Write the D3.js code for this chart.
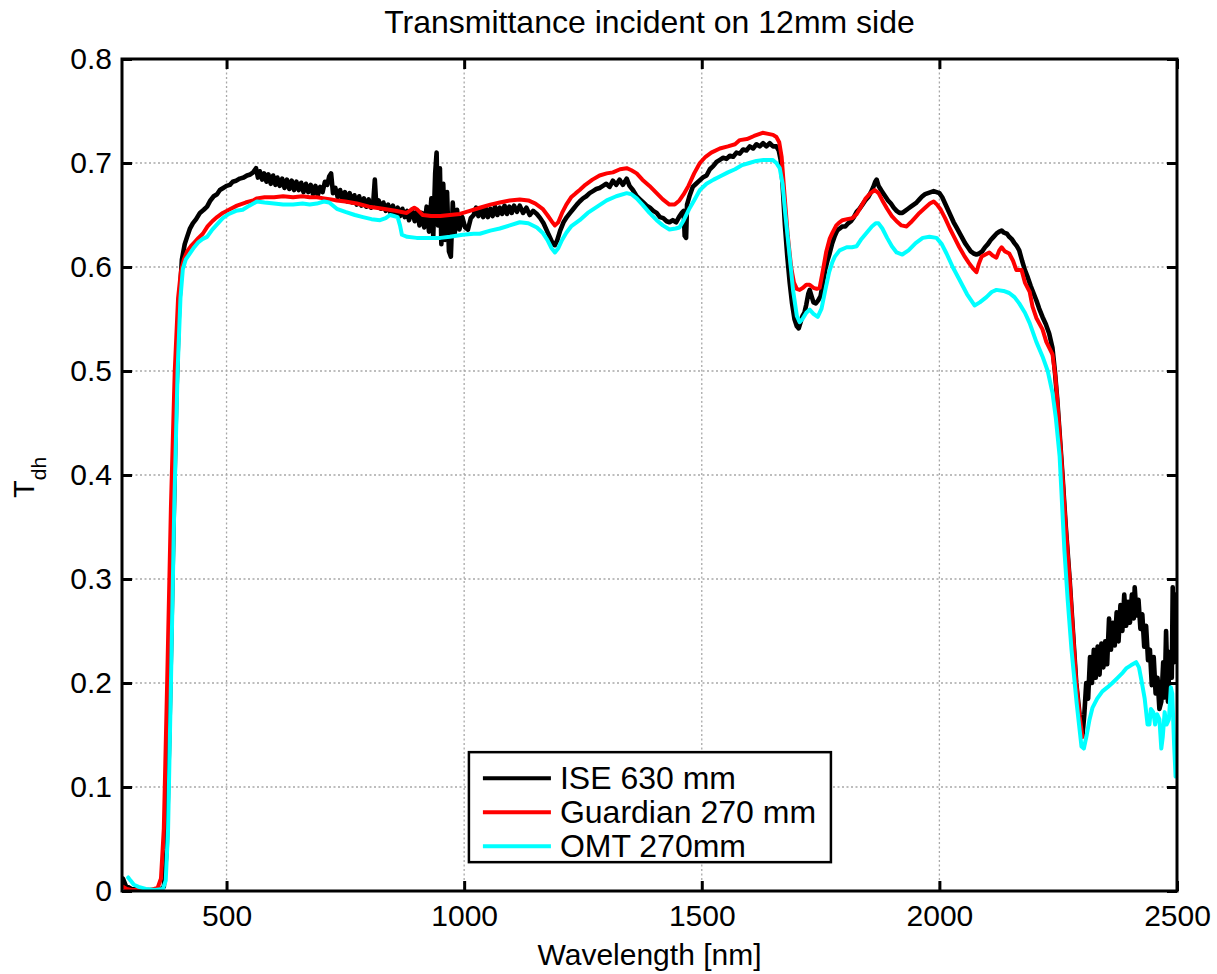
<!DOCTYPE html>
<meta charset="utf-8">
<style>
body { margin: 0; background: #fff; }
svg { font-family: "Liberation Sans", Arial, sans-serif; }
.grid line { stroke: #a8a8a8; stroke-width: 1.3px; stroke-dasharray: 2,2.5; }
.axis path { display: none; }
.axis line { stroke: #000; stroke-width: 3px; }
.axis text { font-size: 30px; fill: #000; }
.curve { fill: none; stroke-width: 4px; stroke-linejoin: round; stroke-linecap: round; }
</style>
<svg width="1217" height="974"></svg>
<script src="https://cdnjs.cloudflare.com/ajax/libs/d3/7.8.5/d3.min.js"></script>
<script>

// wavelength [nm], T_dh
var iseData = [
  [282,0.012],[288,0.005],[300,0.002],[330,0.001],[360,0.001],[368,0.004],[374,0.04],[380,0.16],[387,0.32],[394,0.47],[400,0.56],[406,0.607],[412,0.622],[417,0.629],[423,0.637],[429,0.642],[436,0.646],[444,0.652],[452,0.655],[459,0.658],[466,0.664],[473,0.668],[480,0.67],[486,0.674],[493,0.676],[500,0.678],[507,0.679],[513,0.682],[520,0.683],[528,0.685],[536,0.686],[543,0.688],[550,0.689],[556,0.691],[562,0.695],[566,0.686],[570,0.692],[575,0.684],[579,0.69],[584,0.682],[588,0.689],[593,0.68],[598,0.688],[603,0.679],[607,0.686],[612,0.678],[617,0.685],[622,0.676],[627,0.684],[632,0.675],[637,0.683],[642,0.674],[647,0.682],[652,0.674],[657,0.681],[662,0.672],[667,0.68],[672,0.672],[677,0.679],[682,0.67],[687,0.678],[692,0.669],[697,0.677],[702,0.672],[707,0.682],[712,0.679],[716,0.687],[720,0.69],[724,0.671],[729,0.676],[734,0.667],[739,0.674],[744,0.665],[749,0.672],[754,0.663],[759,0.671],[764,0.662],[769,0.669],[774,0.66],[779,0.668],[784,0.659],[789,0.666],[794,0.658],[799,0.665],[804,0.657],[809,0.664],[812,0.684],[815,0.66],[820,0.664],[825,0.656],[830,0.662],[835,0.654],[840,0.66],[845,0.652],[850,0.659],[855,0.651],[860,0.657],[865,0.649],[870,0.656],[875,0.648],[880,0.654],[884,0.645],[890,0.655],[896,0.644],[901,0.654],[906,0.64],[911,0.652],[916,0.638],[921,0.658],[926,0.634],[931,0.666],[935,0.63],[939,0.69],[942,0.71],[945,0.64],[949,0.695],[952,0.622],[956,0.68],[960,0.626],[964,0.672],[968,0.615],[972,0.61],[976,0.662],[980,0.632],[985,0.655],[990,0.636],[996,0.648],[1002,0.638],[1008,0.636],[1014,0.647],[1020,0.65],[1025,0.657],[1030,0.649],[1035,0.656],[1040,0.648],[1045,0.657],[1050,0.648],[1055,0.656],[1060,0.649],[1065,0.658],[1070,0.65],[1075,0.657],[1080,0.651],[1085,0.659],[1090,0.651],[1095,0.658],[1100,0.652],[1105,0.659],[1111,0.653],[1117,0.659],[1124,0.652],[1131,0.657],[1138,0.65],[1145,0.654],[1153,0.651],[1160,0.647],[1167,0.642],[1174,0.635],[1181,0.628],[1187,0.622],[1191,0.621],[1196,0.626],[1202,0.635],[1209,0.643],[1216,0.648],[1223,0.652],[1230,0.656],[1237,0.66],[1243,0.663],[1250,0.666],[1257,0.668],[1264,0.671],[1271,0.673],[1278,0.675],[1285,0.676],[1292,0.678],[1299,0.68],[1306,0.677],[1313,0.683],[1320,0.679],[1327,0.684],[1334,0.679],[1342,0.685],[1348,0.678],[1355,0.674],[1363,0.668],[1370,0.665],[1377,0.662],[1384,0.659],[1391,0.657],[1398,0.654],[1405,0.652],[1412,0.648],[1419,0.647],[1426,0.644],[1432,0.643],[1439,0.645],[1446,0.643],[1452,0.648],[1458,0.652],[1462,0.654],[1464,0.63],[1467,0.628],[1469,0.66],[1474,0.668],[1481,0.677],[1488,0.68],[1495,0.683],[1502,0.686],[1510,0.688],[1517,0.694],[1524,0.697],[1531,0.701],[1538,0.703],[1545,0.705],[1552,0.704],[1559,0.707],[1566,0.706],[1573,0.71],[1580,0.709],[1587,0.713],[1594,0.712],[1601,0.716],[1608,0.714],[1615,0.718],[1622,0.716],[1629,0.719],[1636,0.716],[1643,0.719],[1650,0.716],[1657,0.716],[1662,0.712],[1666,0.703],[1670,0.68],[1675,0.64],[1680,0.61],[1685,0.585],[1690,0.565],[1695,0.55],[1700,0.543],[1704,0.541],[1708,0.547],[1712,0.553],[1716,0.556],[1720,0.564],[1724,0.574],[1727,0.578],[1731,0.572],[1735,0.566],[1740,0.565],[1745,0.568],[1750,0.572],[1755,0.585],[1760,0.598],[1765,0.607],[1769,0.613],[1774,0.622],[1780,0.63],[1785,0.635],[1790,0.637],[1796,0.639],[1802,0.639],[1808,0.642],[1814,0.644],[1820,0.648],[1826,0.653],[1832,0.656],[1838,0.66],[1844,0.664],[1850,0.667],[1856,0.672],[1861,0.677],[1865,0.682],[1868,0.684],[1872,0.678],[1876,0.675],[1880,0.672],[1886,0.668],[1892,0.664],[1898,0.661],[1904,0.657],[1910,0.654],[1916,0.652],[1922,0.652],[1928,0.654],[1934,0.656],[1940,0.658],[1946,0.66],[1952,0.662],[1958,0.665],[1964,0.668],[1970,0.67],[1976,0.671],[1982,0.672],[1988,0.673],[1994,0.672],[2000,0.671],[2006,0.667],[2012,0.661],[2018,0.655],[2024,0.649],[2030,0.643],[2036,0.638],[2042,0.633],[2048,0.628],[2054,0.623],[2060,0.619],[2066,0.615],[2072,0.613],[2078,0.612],[2084,0.613],[2090,0.615],[2096,0.619],[2102,0.622],[2108,0.626],[2114,0.629],[2120,0.632],[2126,0.634],[2131,0.635],[2136,0.633],[2142,0.632],[2147,0.629],[2152,0.627],[2158,0.623],[2163,0.62],[2168,0.616],[2174,0.606],[2180,0.597],[2186,0.59],[2192,0.582],[2198,0.575],[2204,0.568],[2210,0.56],[2217,0.552],[2224,0.545],[2231,0.536],[2238,0.522],[2243,0.5],[2248,0.473],[2253,0.44],[2259,0.4],[2266,0.35],[2274,0.3],[2281,0.25],[2288,0.2],[2295,0.17],[2301,0.149],[2305,0.17],[2309,0.2],[2313,0.185],[2317,0.225],[2321,0.2],[2325,0.232],[2329,0.205],[2333,0.235],[2337,0.208],[2341,0.238],[2345,0.215],[2349,0.24],[2353,0.218],[2357,0.262],[2361,0.232],[2365,0.258],[2369,0.236],[2373,0.268],[2377,0.24],[2381,0.275],[2385,0.25],[2389,0.285],[2393,0.255],[2397,0.278],[2401,0.258],[2405,0.285],[2409,0.262],[2411,0.292],[2415,0.265],[2419,0.28],[2423,0.252],[2427,0.266],[2431,0.235],[2435,0.255],[2439,0.222],[2443,0.232],[2447,0.198],[2451,0.225],[2455,0.19],[2459,0.205],[2463,0.175],[2467,0.182],[2471,0.22],[2474,0.186],[2477,0.25],[2481,0.182],[2485,0.23],[2489,0.205],[2491,0.292],[2494,0.22],[2497,0.285],[2500,0.27]
];

var guardianData = [
  [282,0.004],[290,0.002],[300,0.001],[340,0.001],[355,0.003],[362,0.012],[368,0.06],[375,0.2],[383,0.37],[391,0.5],[398,0.57],[404,0.596],[410,0.607],[417,0.615],[425,0.62],[433,0.624],[441,0.628],[450,0.632],[460,0.639],[470,0.644],[480,0.648],[492,0.652],[505,0.655],[522,0.659],[540,0.662],[556,0.664],[564,0.666],[580,0.667],[600,0.667],[619,0.668],[640,0.667],[660,0.668],[675,0.667],[690,0.667],[705,0.666],[720,0.665],[732,0.664],[750,0.663],[774,0.661],[800,0.658],[829,0.656],[855,0.654],[879,0.652],[888,0.655],[895,0.657],[902,0.655],[913,0.65],[930,0.649],[950,0.649],[970,0.65],[991,0.651],[1012,0.654],[1033,0.657],[1055,0.66],[1075,0.662],[1096,0.664],[1117,0.665],[1135,0.664],[1150,0.661],[1165,0.656],[1175,0.65],[1184,0.644],[1191,0.64],[1198,0.643],[1206,0.652],[1215,0.66],[1225,0.667],[1235,0.671],[1243,0.674],[1255,0.679],[1270,0.684],[1285,0.688],[1300,0.69],[1313,0.691],[1328,0.694],[1342,0.695],[1352,0.693],[1363,0.69],[1375,0.684],[1390,0.678],[1405,0.671],[1418,0.665],[1432,0.66],[1443,0.66],[1453,0.664],[1462,0.67],[1472,0.678],[1484,0.69],[1496,0.7],[1508,0.706],[1520,0.71],[1538,0.714],[1555,0.716],[1570,0.718],[1580,0.722],[1595,0.723],[1610,0.726],[1628,0.729],[1640,0.728],[1650,0.727],[1657,0.725],[1663,0.72],[1668,0.706],[1674,0.67],[1681,0.63],[1688,0.6],[1694,0.585],[1700,0.579],[1706,0.578],[1713,0.58],[1720,0.583],[1727,0.583],[1735,0.58],[1742,0.579],[1748,0.58],[1755,0.597],[1762,0.615],[1769,0.627],[1775,0.633],[1783,0.64],[1790,0.643],[1796,0.645],[1806,0.646],[1817,0.647],[1826,0.651],[1835,0.658],[1845,0.666],[1855,0.671],[1864,0.674],[1872,0.671],[1880,0.664],[1890,0.656],[1900,0.649],[1910,0.644],[1920,0.64],[1931,0.639],[1940,0.643],[1950,0.648],[1958,0.652],[1970,0.657],[1980,0.661],[1988,0.663],[1995,0.66],[2003,0.655],[2012,0.647],[2022,0.637],[2032,0.628],[2042,0.619],[2052,0.611],[2062,0.604],[2070,0.599],[2078,0.595],[2083,0.603],[2089,0.61],[2097,0.612],[2105,0.614],[2112,0.611],[2120,0.609],[2126,0.616],[2131,0.619],[2138,0.615],[2147,0.613],[2155,0.606],[2162,0.597],[2168,0.597],[2173,0.597],[2180,0.585],[2190,0.576],[2196,0.562],[2204,0.551],[2217,0.54],[2225,0.528],[2238,0.516],[2244,0.495],[2248,0.473],[2253,0.44],[2259,0.4],[2266,0.35],[2274,0.3],[2281,0.25],[2288,0.2],[2295,0.168],[2301,0.148]
];

var omtData = [
  [293,0.013],[298,0.01],[305,0.006],[315,0.004],[330,0.002],[350,0.001],[366,0.002],[372,0.01],[377,0.06],[383,0.2],[390,0.37],[397,0.5],[403,0.57],[408,0.598],[414,0.607],[423,0.613],[432,0.619],[441,0.624],[450,0.627],[459,0.629],[470,0.636],[480,0.641],[492,0.647],[505,0.651],[520,0.654],[534,0.655],[548,0.659],[564,0.663],[580,0.662],[600,0.661],[619,0.66],[640,0.66],[660,0.661],[675,0.66],[690,0.661],[705,0.663],[716,0.662],[732,0.656],[750,0.653],[770,0.65],[787,0.648],[805,0.646],[823,0.645],[835,0.647],[844,0.65],[852,0.649],[860,0.648],[865,0.64],[869,0.631],[880,0.629],[900,0.628],[928,0.628],[950,0.628],[970,0.629],[997,0.631],[1020,0.632],[1033,0.632],[1055,0.635],[1075,0.637],[1096,0.64],[1117,0.643],[1135,0.642],[1153,0.638],[1165,0.633],[1175,0.626],[1184,0.618],[1191,0.614],[1198,0.618],[1206,0.626],[1215,0.633],[1225,0.639],[1243,0.645],[1260,0.652],[1280,0.658],[1300,0.664],[1320,0.668],[1342,0.671],[1352,0.67],[1363,0.666],[1375,0.66],[1390,0.652],[1405,0.645],[1418,0.64],[1432,0.636],[1445,0.637],[1453,0.638],[1462,0.645],[1475,0.657],[1485,0.665],[1496,0.674],[1510,0.68],[1525,0.684],[1538,0.687],[1555,0.691],[1570,0.694],[1585,0.698],[1600,0.7],[1615,0.702],[1630,0.703],[1649,0.703],[1657,0.7],[1664,0.695],[1670,0.68],[1676,0.65],[1685,0.61],[1692,0.578],[1700,0.553],[1706,0.547],[1712,0.55],[1720,0.556],[1727,0.559],[1735,0.555],[1744,0.552],[1752,0.56],[1760,0.578],[1768,0.595],[1775,0.605],[1780,0.61],[1790,0.616],[1805,0.619],[1816,0.619],[1826,0.62],[1836,0.627],[1847,0.633],[1858,0.639],[1866,0.642],[1872,0.642],[1880,0.637],[1890,0.628],[1900,0.62],[1910,0.614],[1922,0.612],[1935,0.616],[1950,0.623],[1965,0.628],[1979,0.629],[1994,0.628],[2005,0.622],[2015,0.613],[2028,0.6],[2042,0.588],[2058,0.574],[2074,0.563],[2085,0.566],[2099,0.571],[2110,0.576],[2120,0.578],[2135,0.577],[2147,0.575],[2158,0.571],[2168,0.565],[2180,0.556],[2190,0.546],[2204,0.528],[2217,0.514],[2228,0.5],[2238,0.479],[2245,0.455],[2253,0.418],[2263,0.328],[2270,0.28],[2278,0.232],[2289,0.18],[2299,0.139],[2304,0.137],[2310,0.15],[2316,0.165],[2322,0.176],[2332,0.185],[2343,0.192],[2354,0.196],[2364,0.2],[2375,0.205],[2386,0.21],[2393,0.214],[2403,0.217],[2414,0.22],[2420,0.215],[2427,0.198],[2432,0.185],[2438,0.16],[2442,0.16],[2445,0.175],[2450,0.172],[2454,0.16],[2458,0.17],[2463,0.165],[2467,0.137],[2470,0.148],[2474,0.172],[2478,0.16],[2483,0.165],[2487,0.196],[2490,0.19],[2494,0.14],[2497,0.11],[2500,0.13]
];

var seriesNames = ["ISE 630 mm", "Guardian 270 mm", "OMT 270mm"];
var seriesColors = ["#000000", "#ff0000", "#00ffff"];
var xTicks = [500, 1000, 1500, 2000, 2500];
var yTicks = [0, 0.1, 0.2, 0.3, 0.4, 0.5, 0.6, 0.7, 0.8];

var svg = d3.select("svg"),
    margin = {top: 59, right: 40, bottom: 83, left: 122},
    width = +svg.attr("width") - margin.left - margin.right,
    height = +svg.attr("height") - margin.top - margin.bottom,
    g = svg.append("g").attr("transform", "translate(" + margin.left + "," + margin.top + ")");

var x = d3.scaleLinear().domain([280, 2500]).range([0, width]),
    y = d3.scaleLinear().domain([0, 0.8]).range([height, 0]);

var yFmt = function(d) { return d === 0 ? "0" : d3.format(".1f")(d); };

// dotted grid
g.append("g").attr("class", "grid")
  .selectAll("line").data(xTicks.filter(function(d) { return d < 2500; }))
  .enter().append("line")
    .attr("x1", function(d) { return x(d); }).attr("x2", function(d) { return x(d); })
    .attr("y1", 0).attr("y2", height);

g.append("g").attr("class", "grid")
  .selectAll("line").data(yTicks.filter(function(d) { return d > 0 && d < 0.8; }))
  .enter().append("line")
    .attr("x1", 0).attr("x2", width)
    .attr("y1", function(d) { return y(d); }).attr("y2", function(d) { return y(d); });

// curves
g.append("clipPath").attr("id", "clip")
  .append("rect").attr("width", width).attr("height", height);

var line = d3.line()
    .x(function(d) { return x(d[0]); })
    .y(function(d) { return y(d[1]); });

var allSeries = [iseData, guardianData, omtData];

g.append("g").attr("clip-path", "url(#clip)")
  .selectAll("path").data(allSeries)
  .enter().append("path")
    .attr("class", "curve")
    .attr("d", line)
    .style("stroke", function(d, i) { return seriesColors[i]; })
    .style("stroke-width", function(d, i) { return i === 0 ? "4.6px" : null; });

// axes, ticks pointing inward
g.append("g").attr("class", "axis")
    .attr("transform", "translate(0," + height + ")")
    .call(d3.axisBottom(x).tickValues(xTicks).tickSizeInner(-10).tickPadding(14).tickFormat(d3.format("d")));

g.append("g").attr("class", "axis")
    .call(d3.axisTop(x).tickValues(xTicks).tickSizeInner(-10).tickFormat(""));

g.append("g").attr("class", "axis")
    .call(d3.axisLeft(y).tickValues(yTicks).tickSizeInner(-10).tickPadding(10).tickFormat(yFmt));

g.append("g").attr("class", "axis")
    .attr("transform", "translate(" + width + ",0)")
    .call(d3.axisRight(y).tickValues(yTicks).tickSizeInner(-10).tickFormat(""));

g.append("rect")
    .attr("width", width).attr("height", height)
    .attr("fill", "none").attr("stroke", "#000").attr("stroke-width", 3);

// legend
var legend = g.append("g").attr("transform", "translate(" + (x(1010)) + "," + (y(0.1335)) + ")");
legend.append("rect")
    .attr("width", 362).attr("height", 110)
    .attr("fill", "#fff").attr("stroke", "#000").attr("stroke-width", 2.5);

var item = legend.selectAll(".item").data(seriesNames)
  .enter().append("g")
    .attr("transform", function(d, i) { return "translate(0," + (26 + i * 34) + ")"; });

item.append("line")
    .attr("x1", 14).attr("x2", 82)
    .attr("stroke-width", 4)
    .attr("stroke", function(d, i) { return seriesColors[i]; });

item.append("text")
    .attr("x", 91).attr("dy", "0.35em")
    .style("font-size", "32px")
    .text(function(d) { return d; });

// labels
svg.append("text")
    .attr("x", margin.left + width / 2).attr("y", 33)
    .attr("text-anchor", "middle")
    .style("font-size", "32px")
    .text("Transmittance incident on 12mm side");

svg.append("text")
    .attr("x", margin.left + width / 2).attr("y", 965)
    .attr("text-anchor", "middle")
    .style("font-size", "30px")
    .text("Wavelength [nm]");

var yl = svg.append("text")
    .attr("transform", "translate(34,498) rotate(-90)")
    .style("font-size", "29px");
yl.append("tspan").text("T");
yl.append("tspan").attr("dy", 12).style("font-size", "21px").text("dh");

</script>
